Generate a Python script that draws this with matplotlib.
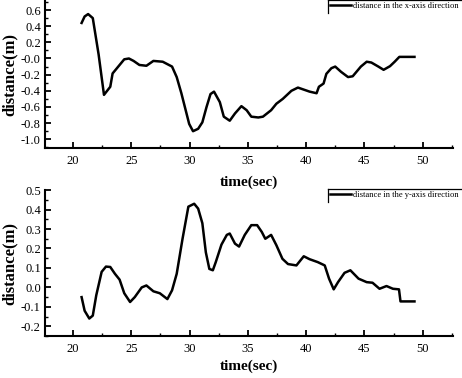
import numpy as np
import matplotlib
matplotlib.use('Agg')
import matplotlib.pyplot as plt
from matplotlib.lines import Line2D
from matplotlib.ticker import MultipleLocator

# displacement along x (time in sec, distance in m)
t_x = [20.74, 21.0, 21.3, 21.7, 22.2, 22.66, 23.2, 23.4, 24.0, 24.4, 24.8, 25.2,
       25.7, 26.3, 26.9, 27.7, 28.5, 28.9, 29.3, 29.97, 30.3, 30.74, 31.1, 31.46,
       31.8, 32.1, 32.6, 32.94, 33.45, 33.9, 34.45, 34.9, 35.3, 35.9, 36.3, 37.0,
       37.45, 38.0, 38.74, 39.3, 39.7, 40.3, 40.9, 41.1, 41.5, 41.74, 42.17, 42.5,
       43.0, 43.6, 44.0, 44.7, 45.2, 45.6, 46.2, 46.65, 47.2, 47.6, 48.0, 49.3]
d_x = [0.44, 0.52, 0.55, 0.50, 0.05, -0.45, -0.35, -0.185, -0.08, -0.01, 0.0, -0.03,
       -0.08, -0.09, -0.03, -0.04, -0.10, -0.23, -0.43, -0.81, -0.90, -0.87, -0.79, -0.60,
       -0.44, -0.41, -0.54, -0.72, -0.77, -0.68, -0.59, -0.64, -0.72, -0.73, -0.72, -0.64,
       -0.56, -0.50, -0.40, -0.36, -0.38, -0.41, -0.43, -0.35, -0.31, -0.19, -0.12, -0.10,
       -0.165, -0.23, -0.22, -0.10, -0.04, -0.05, -0.10, -0.14, -0.095, -0.04, 0.02, 0.02]

# displacement along y
t_y = [20.74, 21.0, 21.4, 21.7, 22.0, 22.46, 22.83, 23.2, 23.6, 24.0, 24.4, 24.9,
       25.3, 25.9, 26.3, 26.9, 27.45, 28.1, 28.5, 28.9, 29.4, 29.9, 30.4, 30.74,
       31.1, 31.4, 31.7, 32.0, 32.25, 32.74, 33.2, 33.45, 33.9, 34.25, 34.74, 35.3,
       35.8, 36.2, 36.5, 37.0, 37.45, 37.97, 38.45, 39.17, 39.8, 40.3, 41.0, 41.6,
       41.97, 42.37, 42.74, 43.3, 43.8, 44.5, 45.2, 45.7, 46.3, 46.9, 47.45, 47.97,
       48.1, 49.3]
d_y = [-0.05, -0.12, -0.16, -0.145, -0.04, 0.08, 0.107, 0.105, 0.07, 0.04, -0.03, -0.075,
       -0.05, 0.0, 0.01, -0.02, -0.03, -0.06, -0.015, 0.07, 0.25, 0.415, 0.43, 0.405,
       0.33, 0.18, 0.095, 0.088, 0.13, 0.22, 0.27, 0.277, 0.225, 0.21, 0.27, 0.32,
       0.32, 0.285, 0.25, 0.27, 0.217, 0.147, 0.12, 0.113, 0.16, 0.145, 0.13, 0.113,
       0.045, -0.01, 0.027, 0.075, 0.088, 0.045, 0.027, 0.024, -0.007, 0.007, -0.007, -0.01,
       -0.072, -0.072]

plt.rcParams['font.family'] = ['Liberation Serif', 'DejaVu Serif']

fig = plt.figure(figsize=(4.62, 3.78), dpi=100)
ax1 = fig.add_axes([0.0974, 0.608, 0.883, 0.389])
ax2 = fig.add_axes([0.0974, 0.111, 0.883, 0.386])


def style(ax, lpad):
    for s in ['top', 'right']:
        ax.spines[s].set_visible(False)
    for s in ['left', 'bottom']:
        ax.spines[s].set_linewidth(1.5)
    ax.set_xlim(17.6, 52.6)
    ax.xaxis.set_major_locator(MultipleLocator(5))
    ax.xaxis.set_minor_locator(MultipleLocator(2.5))
    ax.tick_params(which='major', direction='in', length=4.5, width=1.3, labelsize=9)
    ax.tick_params(which='minor', direction='in', length=2.5, width=1.0)
    ax.tick_params(axis='x', pad=5)
    ax.tick_params(axis='y', pad=3)
    ax.set_xlabel('time(sec)', fontsize=11, fontweight='bold', labelpad=lpad)
    ax.set_ylabel('distance(m)', fontsize=12, fontweight='bold', labelpad=2)


ax1.plot(t_x, d_x, color='black', lw=1.8, label='distance in the x-axis direction')
style(ax1, 6)
ax1.set_ylim(-1.11, 0.71)
ax1.set_yticks(np.arange(-1.0, 0.61, 0.2))
ax1.yaxis.set_minor_locator(MultipleLocator(0.1))
ax1.yaxis.set_major_formatter(plt.FormatStrFormatter('%.1f'))

ax2.plot(t_y, d_y, color='black', lw=1.8, label='distance in the y-axis direction')
style(ax2, 3)
ax2.set_ylim(-0.25, 0.5)
ax2.set_yticks(np.arange(-0.2, 0.51, 0.1))
ax2.yaxis.set_minor_locator(MultipleLocator(0.05))
ax2.yaxis.set_major_formatter(plt.FormatStrFormatter('%.1f'))

# legends: only the top and left edges of the box show in the original
W, H = 462, 378
for ax, top in [(ax1, 0), (ax2, 189)]:
    ax.legend(loc='upper left', bbox_to_anchor=(328 / W, 1 - top / H),
              bbox_transform=fig.transFigure, fontsize=6.1,
              frameon=False, handlelength=2.5, handletextpad=0.3,
              borderpad=0.2, borderaxespad=0)
    fig.add_artist(Line2D([328 / W, 1.0], [1 - top / H] * 2, color='black',
                          lw=0.9, transform=fig.transFigure))
    fig.add_artist(Line2D([328 / W] * 2, [1 - top / H, 1 - (top + 13) / H],
                          color='black', lw=0.9, transform=fig.transFigure))

plt.savefig('out.png', dpi=100)
